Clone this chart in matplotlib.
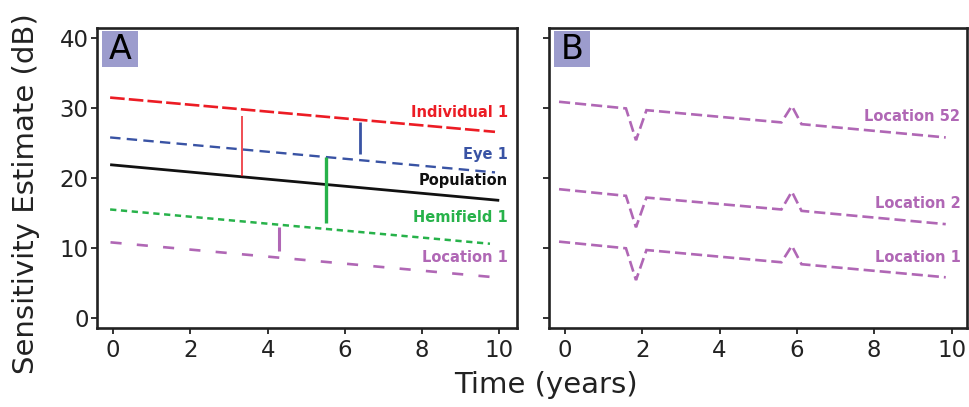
import matplotlib
matplotlib.use("Agg")
import matplotlib.pyplot as plt
from matplotlib.patches import Rectangle

# ---------------- data ----------------
# Panel A: straight trajectories (start/end points)
a_lines_x = {
    "Individual 1": [-0.08, 9.89],
    "Eye 1": [-0.08, 9.89],
    "Population": [-0.08, 10.0],
    "Hemifield 1": [-0.08, 9.76],
    "Location 1": [-0.07, 9.89],
}
a_lines_y = {
    "Individual 1": [31.5, 26.6],
    "Eye 1": [25.8, 20.8],
    "Population": [21.9, 16.8],
    "Hemifield 1": [15.5, 10.6],
    "Location 1": [10.8, 5.8],
}
a_label_y = {
    "Individual 1": 29.4,
    "Eye 1": 23.3,
    "Population": 19.6,
    "Hemifield 1": 14.3,
    "Location 1": 8.7,
}
# Panel A vertical deviation segments: x, y_low, y_high
seg_x = [3.33, 6.4, 5.51, 4.3]
seg_lo = [20.3, 23.4, 13.6, 9.6]
seg_hi = [28.9, 28.0, 22.95, 13.05]

# Panel B: location trajectories with a dip and a peak
b_x = [-0.15, 1.58, 1.84, 2.11, 5.6, 5.87, 6.12, 9.85]
b_loc52 = [30.9, 29.95, 25.4, 29.7, 27.95, 30.3, 27.7, 25.8]
b_loc2 = [18.4, 17.45, 12.95, 17.2, 15.5, 18.05, 15.3, 13.4]
b_loc1 = [10.9, 9.95, 5.4, 9.7, 7.95, 10.3, 7.67, 5.8]
b_label_y = {"Location 52": 28.75, "Location 2": 16.4, "Location 1": 8.7}

x_ticks = [0, 2, 4, 6, 8, 10]
y_ticks = [0, 10, 20, 30, 40]

# ---------------- style ----------------
RED = "#ec1c24"
BLUE = "#3953a4"
BLACK = "#111111"
GREEN = "#27b24a"
PURPLE = "#b067b5"
BOXC = "#9c9ccd"

plt.rcParams["font.family"] = ["DejaVu Sans"]
plt.rcParams["lines.scale_dashes"] = False

colors = {"Individual 1": RED, "Eye 1": BLUE, "Population": BLACK,
          "Hemifield 1": GREEN, "Location 1": PURPLE}
styles = {"Individual 1": (0, (10.5, 3.0)),
          "Eye 1": (0, (7.5, 4.5)),
          "Population": "-",
          "Hemifield 1": (0, (4.5, 3.3)),
          "Location 1": (0, (8.0, 11.0))}
widths = {"Individual 1": 1.9, "Eye 1": 1.7, "Population": 2.0,
          "Hemifield 1": 1.8, "Location 1": 1.9}
seg_colors = [RED, BLUE, GREEN, PURPLE]
seg_widths = [1.1, 2.0, 2.4, 2.2]

fig = plt.figure(figsize=(9.69, 4.07), dpi=100)
W, H = 969, 407
axA = fig.add_axes([97 / W, 1 - 328 / H, (517 - 97) / W, (328 - 28) / H])
axB = fig.add_axes([549 / W, 1 - 328 / H, (967 - 549) / W, (328 - 28) / H])


def style_axes(ax, xlim, show_ylabels):
    ax.set_xlim(*xlim)
    ax.set_ylim(-1.45, 41.45)
    ax.set_xticks(x_ticks)
    ax.set_yticks(y_ticks)
    for s in ax.spines.values():
        s.set_linewidth(1.9)
        s.set_color("#222222")
    ax.tick_params(direction="out", length=4, width=1.3, color="#222222",
                   labelsize=16.5, labelcolor="#222222")
    ax.tick_params(axis="x", pad=4)
    ax.tick_params(axis="y", pad=2)
    if not show_ylabels:
        ax.set_yticklabels([])


def panel_letter(ax, letter):
    # box in axes-fraction units (approx 35x35 px, just inside the top-left corner)
    bw = 36 / 420
    bh = 35 / 300
    x0 = 5 / 420
    y0 = 1 - 3.5 / 300 - bh
    ax.add_patch(Rectangle((x0, y0), bw, bh, transform=ax.transAxes,
                           facecolor=BOXC, edgecolor="none", zorder=5))
    ax.text(x0 + bw / 2, y0 + bh / 2 - 0.003, letter, transform=ax.transAxes,
            ha="center", va="center", fontsize=24, color="black", zorder=6)


# Panel A
style_axes(axA, (-0.42, 10.46), True)
for name in a_lines_x:
    axA.plot(a_lines_x[name], a_lines_y[name], color=colors[name],
             linestyle=styles[name], linewidth=widths[name],
             solid_capstyle="butt", dash_capstyle="butt")
    axA.text(10.22, a_label_y[name], name, color=colors[name], fontsize=10.5,
             fontweight="bold", ha="right", va="center")
for x, lo, hi, c, w in zip(seg_x, seg_lo, seg_hi, seg_colors, seg_widths):
    axA.plot([x, x], [lo, hi], color=c, linewidth=w, solid_capstyle="butt")
panel_letter(axA, "A")

# Panel B
style_axes(axB, (-0.41, 10.4), False)
for ys, name in [(b_loc52, "Location 52"), (b_loc2, "Location 2"), (b_loc1, "Location 1")]:
    axB.plot(b_x, ys, color=PURPLE, linestyle=(0, (8.0, 3.6)), linewidth=1.9,
             dash_capstyle="butt", dash_joinstyle="miter")
    axB.text(10.23, b_label_y[name], name, color=PURPLE, fontsize=10.5,
             fontweight="bold", ha="right", va="center")
panel_letter(axB, "B")

# shared axis labels
fig.text(26 / W, 1 - 194 / H, "Sensitivity Estimate (dB)", rotation=90,
         ha="center", va="center", fontsize=21, color="#222222")
fig.text(546 / W, 1 - 385 / H, "Time (years)", ha="center", va="center",
         fontsize=21, color="#222222")

fig.savefig("out.png", dpi=100)
